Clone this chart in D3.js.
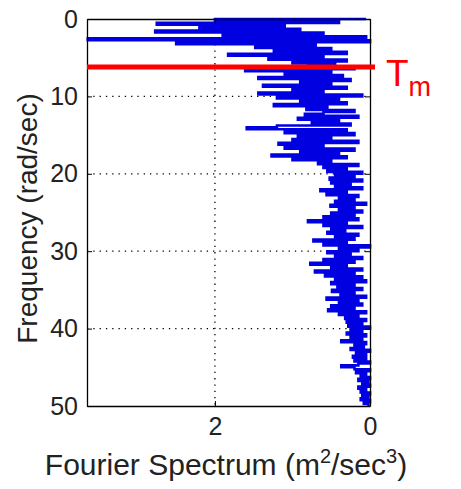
<!DOCTYPE html>
<meta charset="utf-8">
<body style="margin:0;background:#fff">
<script src="https://d3js.org/d3.v7.min.js"></script>
<script>
  // spectrum sampled every 0.25 rad/sec, from 0 to 50
  var freqStep = 0.25;
  var spectrum = [
    0.05, 2.0, 0.4, 2.75, 1.1, 2.2, 0.9, 2.77, 0.6, 1.9, 0.05, 3.64, 0.0, 2.5, 0.7, 1.48,
    0.5, 1.24, 0.3, 1.83, 0.6, 1.31, 0.3, 1.0, 0.45, 0.8, 0.2, 1.61, 0.5, 1.1, 0.35, 1.44,
    0.25, 0.9, 0.5, 1.38, 0.3, 1.0, 0.6, 1.44, 0.1, 1.2, 0.4, 0.9, 0.3, 1.24, 0.55, 0.82,
    0.2, 0.6, 0.84, 0.15, 0.93, 0.4, 0.75, 0.25, 1.2, 1.59, 0.3, 1.1, 0.2, 0.93, 0.5, 1.0,
    0.15, 1.18, 0.6, 1.1, 0.2, 0.9, 0.4, 1.27, 0.3, 1.0, 0.5, 0.67, 0.15, 0.6, 0.3, 0.55,
    0.1, 0.45, 0.2, 0.52, 0.1, 0.5, 0.25, 0.45, 0.1, 0.64, 0.3, 0.56, 0.15, 0.4, 0.2, 0.45,
    0.05, 0.51, 0.2, 0.4, 0.1, 0.5, 0.2, 0.6, 0.15, 0.8, 0.3, 0.6, 0.1, 0.5, 0.32, 0.55,
    0.15, 0.45, 0.2, 0.73, 0.3, 0.6, 0.0, 0.4, 0.15, 0.55, 0.25, 0.45, 0.1, 0.6, 0.2, 0.77,
    0.3, 0.5, 0.1, 0.71, 0.2, 0.58, 0.1, 0.45, 0.05, 0.5, 0.2, 0.42, 0.1, 0.49, 0.2, 0.38,
    0.05, 0.56, 0.15, 0.4, 0.1, 0.5, 0.2, 0.54, 0.05, 0.4, 0.15, 0.32, 0.05, 0.3, 0.1, 0.28,
    0.0, 0.25, 0.1, 0.3, 0.05, 0.25, 0.1, 0.37, 0.05, 0.2, 0.08, 0.25, 0.0, 0.18, 0.05, 0.22,
    0.05, 0.2, 0.0, 0.15, 0.37, 0.2, 0.0, 0.18, 0.05, 0.12, 0.0, 0.15, 0.02, 0.1, 0.0, 0.15,
    0.05, 0.12, 0.0, 0.1, 0.02, 0.12, 0.0, 0.08, 0.02
  ];
  var xTicks = [2, 0];
  var yTicks = [0, 10, 20, 30, 40, 50];
  var gridX = [2];
  var gridY = [10, 20, 30, 40];
  var tmFreq = 6.2;

  var data = spectrum.map(function(v, i) { return {f: i * freqStep, v: v}; });

  var W = 461, H = 489;
  var margin = {top: 19, right: 91, bottom: 83, left: 87};
  var width = W - margin.left - margin.right,
      height = H - margin.top - margin.bottom;

  var svg = d3.select("body").append("svg")
      .attr("width", W)
      .attr("height", H)
      .style("font-family", "'Liberation Sans', Arial, sans-serif");

  var g = svg.append("g")
      .attr("transform", "translate(" + margin.left + "," + margin.top + ")");

  // x axis is reversed: large values on the left
  var x = d3.scaleLinear().domain([3.65, 0]).range([0, width]);
  var y = d3.scaleLinear().domain([0, 50]).range([0, height]);

  // dotted grid
  g.selectAll(".gx").data(gridX).enter().append("line")
      .attr("x1", function(d) { return x(d); }).attr("x2", function(d) { return x(d); })
      .attr("y1", 0).attr("y2", height)
      .attr("stroke", "#000").attr("stroke-width", 1.3).attr("stroke-dasharray", "1.3,5");
  g.selectAll(".gy").data(gridY).enter().append("line")
      .attr("y1", function(d) { return y(d); }).attr("y2", function(d) { return y(d); })
      .attr("x1", 0).attr("x2", width)
      .attr("stroke", "#000").attr("stroke-width", 1.3).attr("stroke-dasharray", "1.3,5");

  // spectrum line, drawn as horizontal runs at each frequency sample
  var line = d3.line()
      .x(function(d) { return x(d.v); })
      .y(function(d) { return y(d.f); })
      .curve(d3.curveStepAfter);

  g.append("path")
      .datum(data)
      .attr("d", line)
      .attr("fill", "none")
      .attr("stroke", "#0000e0")
      .attr("stroke-width", 2.6);

  // axes, ticks inside the box
  var bottomAxis = g.append("g")
      .attr("transform", "translate(0," + height + ")")
      .call(d3.axisBottom(x).tickValues(xTicks).tickFormat(d3.format("d")).tickSizeInner(-5).tickSizeOuter(0).tickPadding(11));
  var topAxis = g.append("g")
      .call(d3.axisTop(x).tickValues(xTicks).tickSizeInner(-5).tickSizeOuter(0).tickFormat(""));
  var leftAxis = g.append("g")
      .call(d3.axisLeft(y).tickValues(yTicks).tickSizeInner(-5).tickSizeOuter(0).tickPadding(9));
  var rightAxis = g.append("g")
      .attr("transform", "translate(" + width + ",0)")
      .call(d3.axisRight(y).tickValues(yTicks).tickSizeInner(-5).tickSizeOuter(0).tickFormat(""));

  [bottomAxis, topAxis, leftAxis, rightAxis].forEach(function(a) {
    a.select(".domain").attr("stroke", "#000").attr("stroke-width", 1.3);
    a.selectAll(".tick line").attr("stroke", "#000");
    a.selectAll("text").attr("font-size", 25).attr("fill", "#222").attr("font-family", null);
  });

  // Tm marker
  g.append("line")
      .attr("x1", 0).attr("x2", width + 5)
      .attr("y1", y(tmFreq)).attr("y2", y(tmFreq))
      .attr("stroke", "#ff0000").attr("stroke-width", 5);

  var tm = svg.append("text")
      .attr("x", 386).attr("y", 86)
      .attr("fill", "#ff0000")
      .attr("font-size", 37);
  tm.append("tspan").text("T");
  tm.append("tspan").attr("font-size", 27).attr("dy", 10).text("m");

  // axis titles
  var xt = svg.append("text")
      .attr("x", 226).attr("y", 475)
      .attr("text-anchor", "middle")
      .attr("font-size", 30)
      .attr("fill", "#222");
  xt.append("tspan").text("Fourier Spectrum (m");
  xt.append("tspan").attr("font-size", 20).attr("dy", -12).text("2");
  xt.append("tspan").attr("dy", 12).text("/sec");
  xt.append("tspan").attr("font-size", 20).attr("dy", -12).text("3");
  xt.append("tspan").attr("dy", 12).text(")");

  svg.append("text")
      .attr("transform", "translate(37," + (margin.top + height / 2 + 6) + ") rotate(-90)")
      .attr("text-anchor", "middle")
      .attr("font-size", 28)
      .attr("fill", "#222")
      .text("Frequency (rad/sec)");
</script>
</body>
